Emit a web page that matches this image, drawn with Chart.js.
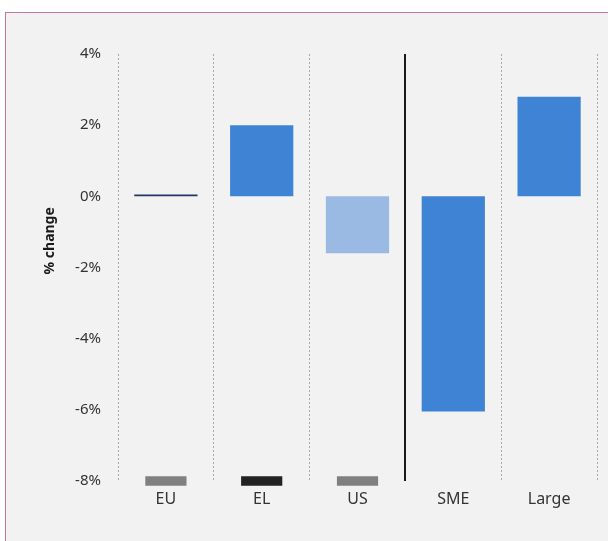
<!DOCTYPE html>
<html>
<head>
<meta charset="utf-8">
<script src="https://cdn.jsdelivr.net/npm/chart.js@4.4.1/dist/chart.umd.min.js"></script>
<style>
  html, body { margin: 0; padding: 0; background: #ffffff; overflow: hidden; }
  #frame {
    position: absolute; left: 5px; top: 12px; width: 640px; height: 560px;
    border: 1.5px solid #c9749e; background: #f2f2f2;
  }
  #chart { position: absolute; left: 0; top: 0; }
</style>
</head>
<body>
<div id="frame"></div>
<canvas id="chart" width="608" height="541"></canvas>
<script>
// % change by group
const categories = ['EU', 'EL', 'US', 'SME', 'Large'];
const changeValues = [0.05, 2.0, -1.6, -6.05, 2.8];
const changeColors = ['#1f3864', '#3f83d5', '#9bbae3', '#3f83d5', '#3f83d5'];
// small markers along the base of the first three groups
const markerRanges = [[-8.13, -7.87], [-8.13, -7.87], [-8.13, -7.87], null, null];
const markerColors = ['#808080', '#222222', '#808080', '#808080', '#808080'];
const yTicks = [4, 2, 0, -2, -4, -6, -8];
const yTitle = '% change';

const fontFamily = "'Noto Sans', 'Open Sans', sans-serif";

// solid separator between country groups and firm-size groups
const separator = {
  id: 'separator',
  afterDatasetsDraw(chart) {
    const x = chart.scales.x;
    const area = chart.chartArea;
    const px = (x.getPixelForValue(2) + x.getPixelForValue(3)) / 2;
    const ctx = chart.ctx;
    ctx.save();
    ctx.strokeStyle = '#1a1a1a';
    ctx.lineWidth = 2;
    ctx.beginPath();
    ctx.moveTo(Math.round(px), area.top);
    ctx.lineTo(Math.round(px), area.bottom);
    ctx.stroke();
    ctx.restore();
  }
};

// rotated axis title, sitting a little above the middle of the axis
const axisTitle = {
  id: 'axisTitle',
  afterDraw(chart) {
    const y = chart.scales.y;
    const ctx = chart.ctx;
    ctx.save();
    ctx.translate(y.left + 50, y.getPixelForValue(-1.25));
    ctx.rotate(-Math.PI / 2);
    ctx.font = 'bold 14px ' + fontFamily;
    ctx.fillStyle = '#1a1a1a';
    ctx.textAlign = 'center';
    ctx.textBaseline = 'middle';
    ctx.fillText(yTitle, 0, 0);
    ctx.restore();
  }
};

new Chart(document.getElementById('chart'), {
  type: 'bar',
  data: {
    labels: categories,
    datasets: [
      {
        data: changeValues,
        backgroundColor: changeColors,
        borderWidth: 0,
        barPercentage: 0.66,
        categoryPercentage: 1.0
      },
      {
        data: markerRanges,
        backgroundColor: markerColors,
        barPercentage: 0.43,
        categoryPercentage: 1.0,
        clip: false
      }
    ]
  },
  options: {
    responsive: false,
    animation: false,
    devicePixelRatio: 1,
    layout: { padding: { top: 54, right: 11, bottom: 0, left: 0 } },
    plugins: { legend: { display: false }, tooltip: { enabled: false } },
    datasets: { bar: { grouped: false } },
    scales: {
      x: {
        offset: true,
        grid: {
          display: true,
          offset: true,
          drawTicks: false,
          color: '#a6a6a6',
          lineWidth: 1
        },
        border: { display: false, dash: [2, 2] },
        ticks: {
          padding: 9,
          maxRotation: 0,
          autoSkip: false,
          color: '#333333',
          font: { family: fontFamily, size: 16 }
        },
        afterFit(scale) { scale.height = 60; }
      },
      y: {
        min: -8,
        max: 4,
        grid: { display: false },
        border: { display: false },
        afterBuildTicks(scale) { scale.ticks = yTicks.map(v => ({ value: v })); },
        ticks: {
          padding: 9,
          color: '#333333',
          font: { family: fontFamily, size: 15 },
          callback: v => v + '%'
        },
        afterFit(scale) { scale.width = 118; }
      }
    }
  },
  plugins: [separator, axisTitle]
});
</script>
</body>
</html>
